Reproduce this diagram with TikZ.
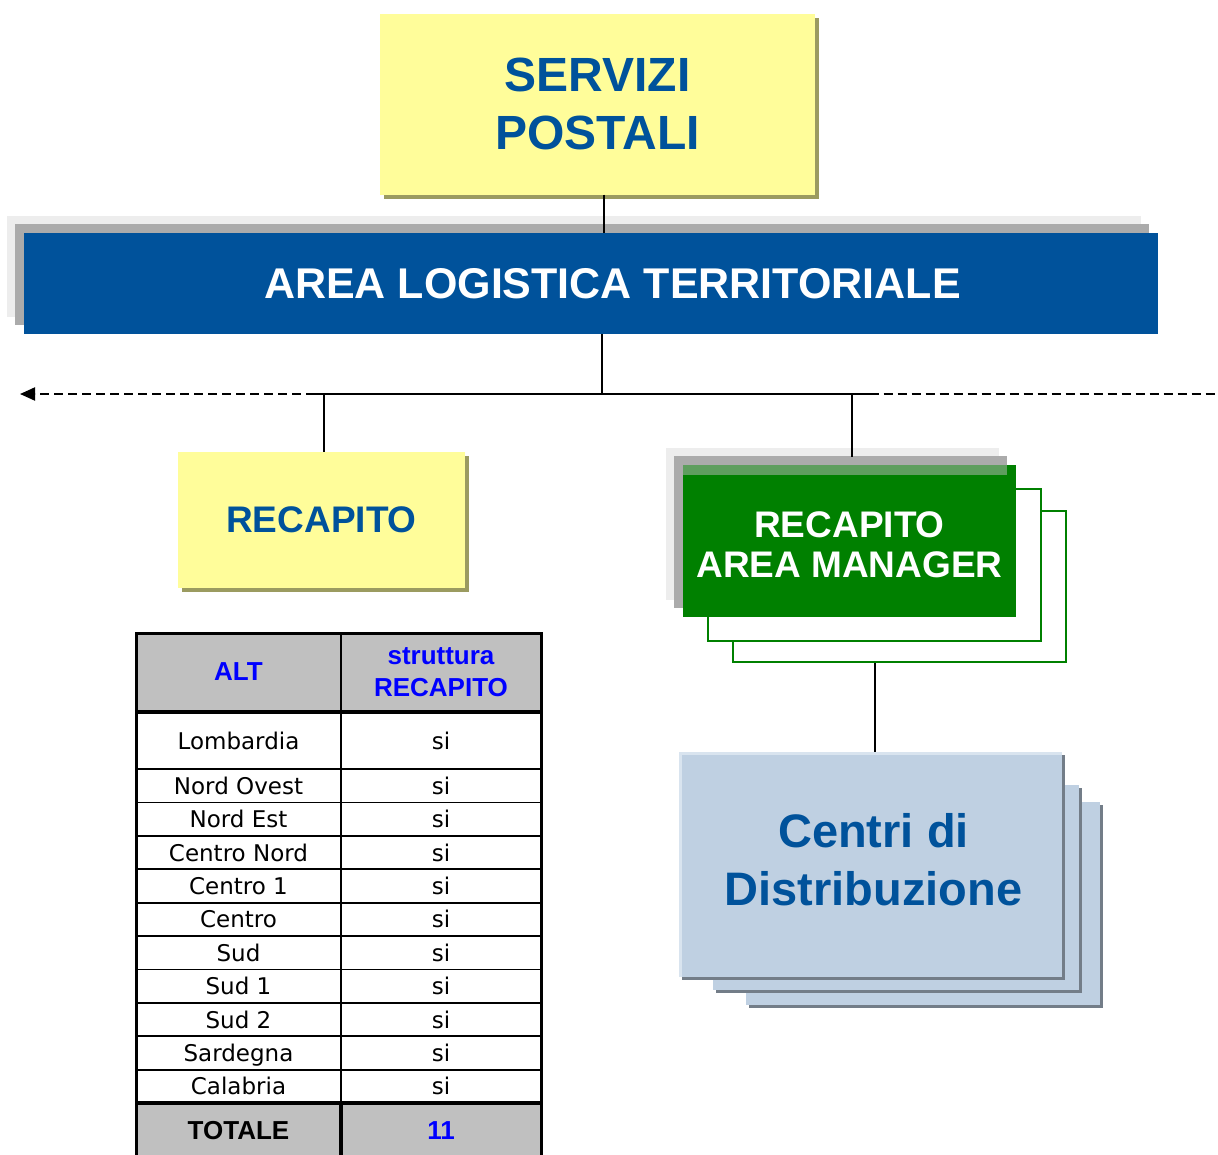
\documentclass[tikz,border=0pt]{standalone}
\usepackage{fontspec}
\setmainfont{Liberation Sans}
\newfontfamily\tabfont{DejaVu Sans}
\usetikzlibrary{arrows.meta,shadows,calc}

\definecolor{postblue}{HTML}{00529B}
\definecolor{boxyellow}{HTML}{FFFD9A}
\definecolor{yellowshade}{HTML}{9B9B60}
\definecolor{amgreen}{HTML}{008000}
\definecolor{amstripe}{HTML}{5E9E5E}
\definecolor{cdfill}{HTML}{BFD0E2}
\definecolor{cdlight}{HTML}{D9E4EF}
\definecolor{cdshade}{HTML}{737D88}
\definecolor{tabgray}{HTML}{C0C0C0}
\definecolor{tabblue}{HTML}{0000FF}

\tikzset{
	yellowbox/.style={fill=boxyellow, text=postblue, align=center, inner sep=0pt,
		font=\bfseries\fontsize{48}{58}\selectfont,
		drop shadow={shadow xshift=4pt, shadow yshift=-4pt, fill=yellowshade, opacity=1}},
	liftshadow/.style={
		drop shadow={shadow xshift=-17pt, shadow yshift=17pt, fill=black!7, opacity=1},
		drop shadow={shadow xshift=-9pt, shadow yshift=9pt, fill=black!33, opacity=1}},
	barbox/.style={fill=postblue, text=white, inner sep=0pt, liftshadow,
		font=\bfseries\fontsize{43}{50}\selectfont},
	ambox/.style={fill=amgreen, inner sep=0pt, liftshadow},
	amlabel/.style={text=white, align=center, inner sep=0pt,
		font=\bfseries\fontsize{37}{40}\selectfont},
	amback/.style={draw=amgreen, line width=2pt, fill=white, inner sep=0pt},
	cdbox/.style={fill=cdfill, inner sep=0pt,
		drop shadow={shadow xshift=3pt, shadow yshift=-3pt, fill=cdshade, opacity=1}},
	cdlabel/.style={text=postblue, align=center, inner sep=0pt,
		font=\bfseries\fontsize{47}{58}\selectfont},
	link/.style={line width=2pt},
	dashline/.style={line width=2pt, dash pattern=on 9pt off 5pt},
	tabcell/.style={inner sep=0pt, anchor=base, font=\tabfont\fontsize{23}{28}\selectfont},
	tabhead/.style={inner sep=0pt, text=tabblue, font=\bfseries\fontsize{26}{32}\selectfont},
	tabrule/.style={line width=1.8pt},
	tabthick/.style={line width=4pt},
}

\begin{document}
\begin{tikzpicture}[x=1pt, y=-1pt]
	\useasboundingbox (0,0) rectangle (1218,1154);
	
	%%%%% BOXES %%%%%
	\node[yellowbox, minimum width=435pt, minimum height=181pt] (servizi) at (597.5,104) {SERVIZI\\POSTALI};
	\node[barbox, minimum width=1134pt, minimum height=101pt] (logistica) at (591,283.5) {\hspace*{43pt}AREA LOGISTICA TERRITORIALE};
	\draw[link] ([xshift=6pt]servizi.south) -- ([xshift=6pt]servizi.south |- logistica.north);
	
	\node[yellowbox, font=\bfseries\fontsize{37}{44}\selectfont, minimum width=287pt, minimum height=136pt] (recap) at (321.5,520) {RECAPITO};
	
	\node[amback, minimum width=333pt, minimum height=151pt] (amback2) at (899.5,586.5) {};
	\node[amback, minimum width=333pt, minimum height=152pt] (amback1) at (874.5,565) {};
	\node[ambox, minimum width=333pt, minimum height=152pt] (am) at (849.5,541) {};
	\fill[amstripe] (am.north west) rectangle ([xshift=-9pt,yshift=-10pt]am.north east);
	\node[amlabel] (amtext) at ([yshift=-4pt]am.center) {RECAPITO\\AREA MANAGER};
	
	\node[cdbox, minimum width=354pt, minimum height=203pt] (cd3) at (923,903.5) {};
	\node[cdbox, minimum width=366pt, minimum height=205pt] (cd2) at (896,887.5) {};
	\node[cdbox, minimum width=383pt, minimum height=225pt] (cd1) at (870.5,864.5) {};
	\draw[cdlight, line width=3pt] ([xshift=1.5pt]cd1.south west) -- ([xshift=1.5pt,yshift=-1.5pt]cd1.north west) -- ([yshift=-1.5pt]cd1.north east);
	\node[cdlabel] (cdtext) at ([xshift=3pt,yshift=5pt]cd1.center) {Centri di\\Distribuzione};
	
	%%%%% LINKS %%%%%
	\coordinate (hub) at (602,394);
	\coordinate (westend) at (20,394);
	\coordinate (eastend) at (1218,394);
	\draw[link] (hub |- logistica.south) -- (hub);
	\draw[link] ([xshift=-7pt]recap.north |- hub) -- (hub) -- ([xshift=20pt]am.north |- hub);
	\draw[link] ([xshift=2.5pt]recap.north |- hub) -- ([xshift=2.5pt]recap.north);
	\draw[link] ([xshift=2.5pt]am.north |- hub) -- ([xshift=2.5pt,yshift=8pt]am.north);
	\draw[dashline, -{Triangle[length=15pt,width=13pt]}] ([xshift=-7pt]recap.north |- hub) -- (westend);
	\draw[dashline] ([xshift=20pt]am.north |- hub) -- (eastend);
	
	\coordinate (amfoot) at (amback1.center |- amback2.south);
	\draw[link] (amfoot) -- (amfoot |- cd1.north);
	
	%%%%% TABLE %%%%%
	\fill[tabgray] (136,633) rectangle (541,712);
	\fill[tabgray] (136,1103) rectangle (541,1160);
	\node[tabhead] (hdalt) at (238.5,672) {ALT};
	\node[tabhead, align=center] (hdstr) at (441,672.5) {struttura\\RECAPITO};
	
	\node[tabcell] (reg0) at (238.5,749) {Lombardia};
	\node[tabcell] (si0) at (441,749) {si};
	\draw[tabrule] (136,769) -- (541,769);
	\foreach \reg [count=\i] in {Nord Ovest,Nord Est,Centro Nord,Centro 1,Centro,Sud,Sud 1,Sud 2,Sardegna,Calabria}{
		\node[tabcell] (reg\i) at (238.5,{769+(\i-0.5)*33.4+8.5}) {\reg};
		\node[tabcell] (si\i) at (441,{769+(\i-0.5)*33.4+8.5}) {si};
		\draw[tabrule] (136,{769+\i*33.4}) -- (541,{769+\i*33.4});
	}
	
	\node[tabhead, text=black] (tot) at (238.5,1131) {TOTALE};
	\node[tabhead] (totsi) at (441,1131) {11};
	
	\draw[tabthick] (136,712) -- (541,712);
	\draw[tabthick] (136,1103) -- (541,1103);
	\draw[tabrule] (341,633) -- (341,1103);
	\draw[tabthick] (341,1103) -- (341,1160);
	\draw[line width=3pt] (136,1160) -- (136,633) -- (541,633) -- (541,1160);
\end{tikzpicture}
\end{document}
